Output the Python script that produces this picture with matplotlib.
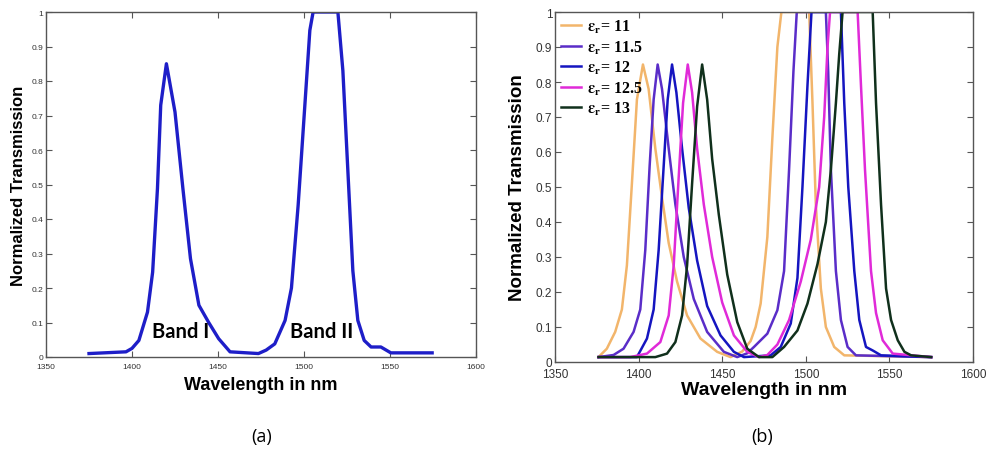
import matplotlib
matplotlib.use("Agg")
import matplotlib.pyplot as plt
from matplotlib.ticker import FixedLocator

plt.rcParams['mathtext.fontset'] = 'stix'

# ---------------- data ----------------
# Panel (a): single transmission curve (blue)
wl_a = [1375, 1396.5, 1400, 1404, 1409, 1412, 1414.8, 1416.7, 1420, 1425, 1429.6, 1434, 1438.9,
        1444.6, 1450.4, 1457, 1473.5, 1478, 1483, 1489, 1492.7, 1496.6, 1500.5, 1503.4, 1505.3,
        1519.7, 1522.6, 1525.5, 1528.4, 1531.3, 1535, 1539, 1544.7, 1550.5, 1574.5]
tr_a = [.01, .015, .025, .048, .13, .246, .488, .73, .85, .71, .488, .285, .15,
        .10, .053, .015, .01, .02, .038, .106, .20, .44, .73, .947, 1.0,
        1.0, .83, .54, .25, .106, .048, .029, .029, .012, .012]

# Panel (b): curves for different permittivities
wl_11 = [1376, 1381, 1386, 1390, 1393, 1396, 1399, 1402.6, 1406, 1410, 1414, 1418, 1423, 1429, 1437,
         1447, 1455, 1462, 1467, 1470, 1473, 1477, 1480, 1483, 1485.4, 1502, 1504, 1506, 1509, 1512,
         1517, 1523, 1575]
tr_11 = [.014, .038, .086, .15, .276, .51, .75, .85, .78, .61, .47, .34, .23, .133, .067,
         .029, .014, .03, .06, .1, .167, .357, .64, .9, 1.0, 1.0, .74, .45, .21, .1,
         .043, .019, .014]

wl_115 = [1376, 1385, 1391, 1397, 1401, 1404, 1406.6, 1409, 1411.4, 1414, 1418, 1422, 1427, 1433, 1441,
          1451, 1459, 1465, 1469, 1477, 1483, 1487, 1490, 1492.6, 1494.6, 1512, 1513.4, 1515, 1518,
          1521, 1525, 1530, 1575]
tr_115 = [.014, .02, .038, .086, .15, .32, .56, .75, .85, .78, .61, .45, .30, .18, .086,
          .029, .014, .025, .043, .081, .148, .26, .55, .83, 1.0, 1.0, .83, .55, .26,
          .12, .043, .019, .014]

wl_12 = [1376, 1399, 1405, 1409, 1412, 1415, 1417.4, 1420, 1422.6, 1426, 1430, 1435, 1441, 1449, 1457,
         1463, 1479, 1485, 1491, 1495, 1498, 1501, 1503.4, 1521, 1523, 1525.4, 1529, 1532, 1536, 1540,
         1545, 1575]
tr_12 = [.014, .014, .067, .15, .32, .56, .75, .85, .77, .61, .44, .29, .16, .076, .029,
         .014, .019, .043, .11, .24, .5, .79, 1.0, 1.0, .74, .5, .26, .12, .043, .033,
         .019, .014]

wl_125 = [1376, 1395, 1405, 1413, 1418, 1421, 1424, 1426.6, 1429.4, 1432, 1435, 1439, 1444, 1450, 1457,
          1465, 1472, 1477, 1483, 1490, 1497, 1503, 1508, 1511, 1513, 1514.5, 1531, 1533, 1535.4, 1539,
          1542, 1546, 1552, 1575]
tr_125 = [.014, .014, .024, .057, .133, .276, .53, .74, .85, .77, .61, .45, .30, .17, .076,
          .029, .014, .02, .05, .12, .23, .35, .5, .7, .9, 1.0, 1.0, .79, .55, .26,
          .14, .062, .024, .014]

wl_13 = [1376, 1410, 1417, 1422, 1426, 1429, 1432, 1435, 1438, 1441, 1444, 1448, 1453, 1459, 1465,
         1472, 1480, 1487, 1495, 1501, 1507, 1512, 1515, 1518, 1520, 1522, 1540, 1542, 1545, 1548,
         1551, 1555, 1559, 1563, 1575]
tr_13 = [.014, .014, .024, .057, .133, .276, .51, .73, .85, .75, .58, .42, .25, .114, .038,
         .014, .014, .043, .09, .167, .28, .40, .55, .74, .88, 1.0, 1.0, .74, .45, .21,
         .12, .062, .029, .019, .014]

eps_labels = ['11', '11.5', '12', '12.5', '13']
x_ticks = [1350, 1400, 1450, 1500, 1550, 1600]
y_ticks = [0, 0.1, 0.2, 0.3, 0.4, 0.5, 0.6, 0.7, 0.8, 0.9, 1]
y_tick_labels = ['0', '0.1', '0.2', '0.3', '0.4', '0.5', '0.6', '0.7', '0.8', '0.9', '1']

colors_b = ['#F2B56B', '#5A2DC8', '#1515C0', '#E02AD8', '#10301C']

# ---------------- figure ----------------
W, H = 992, 452
fig = plt.figure(figsize=(W / 100, H / 100), dpi=100)

def px_axes(l, t, r, b):
    return fig.add_axes([l / W, 1 - b / H, (r - l) / W, (b - t) / H])

def style(ax, tick_fs):
    ax.set_xlim(1350, 1600)
    ax.set_ylim(0, 1)
    ax.xaxis.set_major_locator(FixedLocator(x_ticks))
    ax.yaxis.set_major_locator(FixedLocator(y_ticks))
    ax.set_xticklabels([str(v) for v in x_ticks], fontsize=tick_fs, color='#333333',
                       family='Liberation Sans')
    ax.set_yticklabels(y_tick_labels, fontsize=tick_fs, color='#333333', family='Liberation Sans')
    ax.tick_params(direction='in', top=True, right=True, length=4, width=0.8, color='#555555')
    ax.tick_params(axis='x', pad=4)
    ax.tick_params(axis='y', pad=2)
    for s in ax.spines.values():
        s.set_color('#555555')
        s.set_linewidth(1.0)

# Panel (a)
axa = px_axes(46, 13, 476, 358)
axa.plot(wl_a, tr_a, color='#1E1EC8', lw=2.4)
style(axa, 6)
axa.set_xlabel('Wavelength in nm', fontsize=13, fontweight='bold', family='Liberation Sans', labelpad=5)
axa.set_ylabel('Normalized Transmission', fontsize=12, fontweight='bold', family='Liberation Sans', labelpad=4)
axa.text(1428.5, 0.075, 'Band I', fontsize=14.5, fontweight='bold', ha='center', va='center', family='Lato')
axa.text(1510.5, 0.075, 'Band II', fontsize=14.5, fontweight='bold', ha='center', va='center', family='Lato')

# Panel (b)
axb = px_axes(555, 13, 973, 363)
series = [(wl_11, tr_11), (wl_115, tr_115), (wl_12, tr_12), (wl_125, tr_125), (wl_13, tr_13)]
for (wl, tr), c, lab in zip(series, colors_b, eps_labels):
    axb.plot(wl, tr, color=c, lw=1.8, label=r'$\mathbf{\epsilon_r}$= ' + lab)
style(axb, 8.5)
axb.set_xlabel('Wavelength in nm', fontsize=14, fontweight='bold', family='Liberation Sans', labelpad=1)
axb.set_ylabel('Normalized Transmission', fontsize=13.5, fontweight='bold', family='Liberation Sans', labelpad=7)
leg = axb.legend(loc='upper left', frameon=False, prop={'family': 'Liberation Serif', 'weight': 'bold', 'size': 11.5},
                 handlelength=1.25, handletextpad=0.4, labelspacing=0.2, borderaxespad=0.05,
                 borderpad=0.3)

fig.text(262 / W, 1 - 437 / H, '(a)', fontsize=13, ha='center', va='center', family='Open Sans')
fig.text(762 / W, 1 - 437 / H, '(b)', fontsize=13, ha='center', va='center', family='Open Sans')

fig.savefig('out.png', dpi=100, facecolor='white')
